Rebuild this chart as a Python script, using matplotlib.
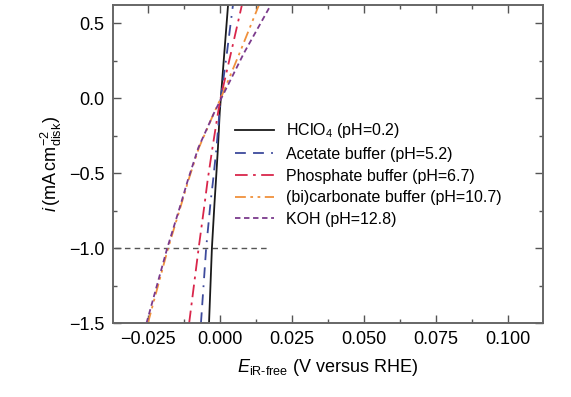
import matplotlib
matplotlib.use("Agg")
import matplotlib.pyplot as plt
from matplotlib.ticker import MultipleLocator

plt.rcParams['font.family'] = ['Liberation Sans', 'DejaVu Sans']
plt.rcParams['mathtext.fontset'] = 'custom'
plt.rcParams['mathtext.rm'] = 'Liberation Sans'
plt.rcParams['mathtext.it'] = 'Liberation Sans:italic'

# current density (mA cm-2 disk)
current = [-1.5, -1.0, -0.7, -0.55, -0.33, -0.1, 0.0, 0.3, 0.62]

# iR-free potential (V vs RHE) for each electrolyte
e_hclo4 = [-0.0038, -0.0028, -0.0019, -0.0014, -0.0007, -0.0001, 0.0003, 0.0015, 0.0028]
e_acetate = [-0.0066, -0.0048, -0.0033, -0.0024, -0.0012, -0.0002, 0.0003, 0.0024, 0.0045]
e_phosphate = [-0.0107, -0.0074, -0.0053, -0.0043, -0.0026, -0.0007, 0.0002, 0.0038, 0.0076]
e_carbonate = [-0.0250, -0.0180, -0.0133, -0.0110, -0.0073, -0.0021, 0.0003, 0.0068, 0.0135]
e_koh = [-0.0255, -0.0183, -0.0135, -0.0112, -0.0075, -0.0021, 0.0005, 0.0083, 0.0176]

labels = [r'HClO$_4$ (pH=0.2)', 'Acetate buffer (pH=5.2)', 'Phosphate buffer (pH=6.7)',
          '(bi)carbonate buffer (pH=10.7)', 'KOH (pH=12.8)']

ref_current = -1.0
ref_line_x = [-0.04, 0.0168]

fig = plt.figure(figsize=(5.71, 3.97), dpi=100)
ax = fig.add_axes([0.198, 0.186, 0.753, 0.801])

ax.plot(ref_line_x, [ref_current, ref_current], color='#555555', lw=1.0, ls=(0, (4, 3)))

ax.plot(e_hclo4, current, color='#1a1a1a', lw=1.3, ls='-', label=labels[0])
ax.plot(e_acetate, current, color='#3d4a9c', lw=1.3, ls=(0, (6, 4, 6, 4, 1, 4)), label=labels[1])
ax.plot(e_phosphate, current, color='#d9264b', lw=1.3, ls=(0, (7, 3, 1.5, 3)), label=labels[2])
ax.plot(e_carbonate, current, color='#f0913c', lw=1.3, ls=(0, (6, 2.5, 1.5, 2.5, 1.5, 2.5)), label=labels[3])
ax.plot(e_koh, current, color='#7b3a8c', lw=1.3, ls=(0, (3, 2)), label=labels[4])

ax.set_xlim(-0.0371, 0.1121)
ax.set_ylim(-1.5, 0.62)
ax.xaxis.set_major_locator(MultipleLocator(0.025))
ax.xaxis.set_minor_locator(MultipleLocator(0.0125))
ax.yaxis.set_major_locator(MultipleLocator(0.5))
ax.yaxis.set_minor_locator(MultipleLocator(0.25))
ax.xaxis.set_major_formatter(plt.FuncFormatter(lambda v, p: f'{v:.3f}'.replace('-', '\u2212')))
ax.yaxis.set_major_formatter(plt.FuncFormatter(lambda v, p: f'{v:.1f}'.replace('-', '\u2212')))

ax.tick_params(which='both', direction='in', top=True, right=True, color='#555555',
               labelsize=13, width=1.0)
ax.tick_params(which='major', length=6, pad=6)
ax.tick_params(which='minor', length=3)
for s in ax.spines.values():
    s.set_color('#666666')
    s.set_linewidth(1.4)

ax.set_xlabel(r'$\mathit{E}_{\text{iR-free}}$ (V versus RHE)', fontsize=13, labelpad=6)
ax.set_ylabel(r'$\mathit{i}\,(\mathrm{mA\,cm^{-2}_{disk}})$', fontsize=13, labelpad=4)

ax.legend(loc='upper left', bbox_to_anchor=(0.284, 0.635), frameon=False, fontsize=11.5,
          handlelength=2.4, handletextpad=0.8, labelspacing=0.42, borderaxespad=0,
          borderpad=0)

fig.savefig('out.png', dpi=100)
